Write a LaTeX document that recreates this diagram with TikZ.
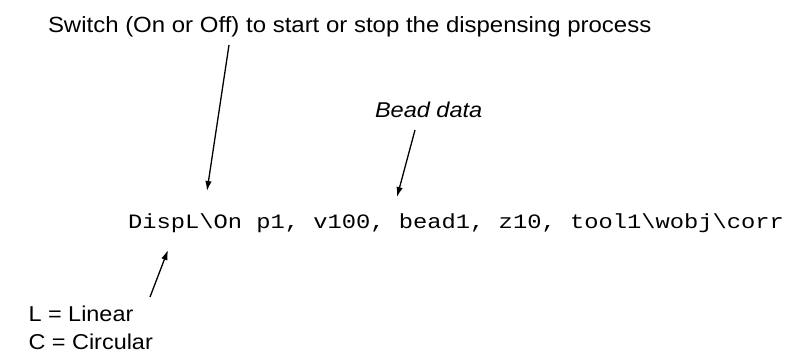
\documentclass[tikz,border=0pt]{standalone}
\usepackage{fontspec}
\setmainfont{Liberation Sans}
\newfontfamily\codefont{Liberation Mono}
\usetikzlibrary{arrows.meta}
\tikzset{
  lbl/.style={anchor=base west, inner sep=0pt, outer sep=0pt},
  ptr/.style={line width=1.3pt, -{Latex[length=10pt,width=6.5pt]}}
}
\begin{document}
\begin{tikzpicture}[x=1pt,y=-1pt]
\useasboundingbox (0,0) rectangle (788,354);
\node[lbl, font=\fontsize{22}{26}\selectfont] (title) at (48,32.5) {\scalebox{1.09}[1]{Switch (On or Off) to start or stop the dispensing process}};
\node[lbl, font=\fontsize{21.4}{24}\selectfont\itshape] (bead) at (375,117.5) {\scalebox{1.10}[1]{Bead data}};
\node[lbl, font=\fontsize{20.4}{24}\codefont] (code) at (128,228) {\scalebox{1.165}[1]{DispL\textbackslash On p1, v100, bead1, z10, tool1\textbackslash wobj\textbackslash corr}};
\node[lbl, font=\fontsize{21.5}{24}\selectfont] (lin) at (28.5,321.8) {\scalebox{1.09}[1]{L = Linear}};
\node[lbl, font=\fontsize{21.5}{24}\selectfont] (circ) at (28.5,349.5) {\scalebox{1.09}[1]{C = Circular}};
\coordinate (t1) at (229,45);
\coordinate (h1) at (207,191);
\coordinate (t2) at (415,130);
\coordinate (h2) at (397,197);
\coordinate (t3) at (150,297);
\coordinate (h3) at (168,250);
\draw[ptr] (t1) -- (h1);
\draw[ptr] (t2) -- (h2);
\draw[ptr] (t3) -- (h3);
\end{tikzpicture}
\end{document}
